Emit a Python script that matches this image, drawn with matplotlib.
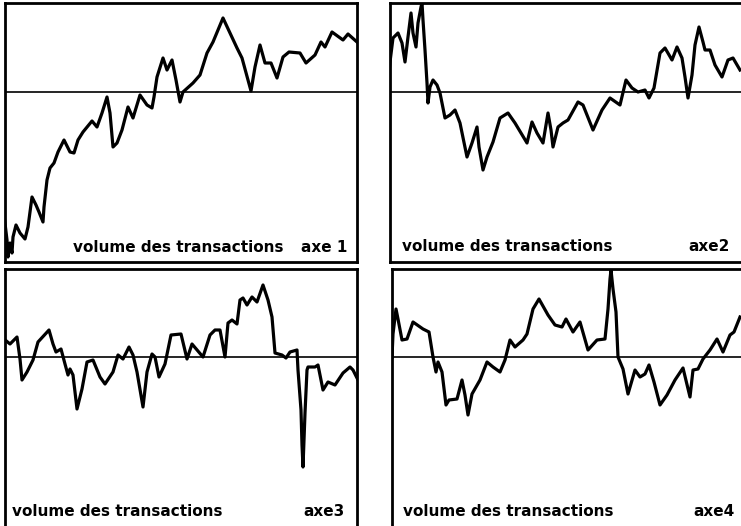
import matplotlib.pyplot as plt

# panel 1 (axe 1): positions along the period and values relative to the zero line
x1 = [-1, 2, 3, 5, 7, 8, 11, 15, 20, 23, 27, 31, 34, 38, 39, 42, 45, 49, 53, 59,
      65, 69, 73, 78, 87, 92, 97, 102, 105, 108, 112, 117, 123, 128, 135, 142, 147, 149, 152, 158,
      162, 167, 171, 175, 178, 188, 195, 202, 208, 218, 225, 232, 237, 246, 250, 255, 260, 266, 272, 278,
      284, 295, 301, 310, 316, 320, 327, 338, 343, 352]
y1 = [-123, -148, -165, -151, -161, -145, -133, -141, -147, -135, -105, -113, -120, -130, -115, -88, -76, -71, -60, -48,
      -60, -61, -48, -40, -29, -35, -21, -5, -21, -55, -51, -38, -15, -26, -3, -13, -16, -5, 15, 34,
      22, 32, 12, -10, 0, 9, 17, 39, 50, 74, 59, 44, 34, 1, 25, 47, 29, 29, 14, 35,
      40, 39, 29, 37, 50, 45, 60, 52, 58, 50]

# panel 2 (axe 2)
x2 = [-2, 0, 3, 8, 12, 15, 18, 21, 23, 26, 28, 31, 32, 33, 35, 37, 38, 40, 43, 47,
      50, 55, 60, 65, 70, 77, 82, 87, 89, 93, 97, 103, 110, 118, 125, 137, 142, 147, 153, 158,
      161, 163, 168, 173, 178, 188, 193, 203, 212, 220, 230, 236, 242, 248, 255, 259, 264, 270, 275, 282,
      287, 292, 295, 298, 302, 305, 309, 313, 315, 320, 325, 332, 338, 343, 350]
y2 = [9, 30, 54, 59, 49, 30, 55, 79, 59, 45, 69, 85, 89, 72, 42, 9, -11, 5, 12, 7,
      -1, -26, -23, -18, -31, -65, -51, -35, -55, -78, -65, -50, -26, -21, -31, -51, -30, -41, -51, -21,
      -38, -55, -35, -31, -28, -10, -13, -38, -18, -6, -13, 12, 4, 0, 2, -6, 4, 39, 44, 32,
      45, 34, 15, -6, 17, 47, 65, 50, 42, 42, 27, 15, 32, 34, 22]

# panel 3 (axe 3)
x3 = [-1, 5, 12, 15, 17, 22, 28, 33, 44, 48, 51, 56, 60, 63, 65, 68, 72, 77, 82, 88,
      95, 100, 108, 113, 118, 124, 128, 132, 138, 142, 147, 150, 154, 160, 166, 176, 182, 187, 198, 205,
      210, 215, 220, 223, 227, 232, 235, 238, 242, 247, 252, 258, 263, 267, 270, 277, 281, 285, 292, 293,
      296, 297, 298, 300, 302, 303, 310, 313, 318, 323, 330, 338, 345, 348, 353]
y3 = [18, 13, 20, -2, -23, -15, -3, 15, 27, 13, 5, 8, -7, -18, -12, -18, -52, -32, -5, -3,
      -20, -27, -15, 2, -2, 10, 2, -15, -50, -15, 3, 0, -20, -7, 22, 23, -2, 13, 0, 22,
      27, 27, 0, 34, 37, 33, 57, 59, 52, 60, 55, 72, 57, 40, 4, 2, -1, 5, 7, -13,
      -53, -88, -110, -56, -13, -10, -10, -8, -33, -25, -28, -16, -10, -13, -23]

# panel 4 (axe 4)
x4 = [0, 1, 4, 6, 10, 15, 21, 31, 37, 41, 44, 46, 50, 54, 57, 65, 70, 73, 76, 80,
      88, 95, 101, 108, 113, 118, 123, 131, 135, 141, 147, 156, 163, 170, 174, 181, 188, 196, 205, 213,
      216, 218, 219, 221, 224, 226, 231, 236, 243, 248, 253, 257, 262, 268, 275, 283, 291, 298, 301, 306,
      311, 318, 325, 331, 338, 342, 348]
y4 = [0, 23, 48, 38, 17, 18, 35, 28, 25, 0, -15, -5, -15, -48, -43, -42, -23, -38, -58, -37,
      -23, -5, -10, -15, -3, 17, 10, 17, 23, 48, 58, 42, 32, 30, 38, 25, 35, 7, 17, 18,
      48, 78, 87, 68, 45, 0, -12, -37, -13, -20, -17, -8, -25, -48, -38, -23, -11, -40, -13, -12,
      -2, 7, 18, 5, 22, 25, 40]

label = "volume des transactions"
axis_names = ["axe 1", "axe2", "axe3", "axe4"]

W, H = 741, 526
fig = plt.figure(figsize=(W / 100, H / 100), dpi=100)

# panel boxes in pixels: left, top, width, height (right/bottom ones run past the edge)
boxes = [(5, 3, 352, 259), (390, 3, 356, 259), (5, 269, 352, 263), (392, 269, 356, 263)]
ylims = [(-170, 89), (-170, 89), (-175, 88), (-175, 88)]
xlims = [352, 356, 352, 356]
series = [(x1, y1), (x2, y2), (x3, y3), (x4, y4)]
# label left, name right (axes fraction of the 352 px wide part), text centre in px from panel bottom edge
text_pos = [(68, 342, 14), (12, 340, 15), (7, 340, 16), (11, 343, 16)]

for (l, t, w, h), yl, xl, (xs, ys), (tx, nx, ty), name in zip(boxes, ylims, xlims, series, text_pos, axis_names):
    ax = fig.add_axes([l / W, 1 - (t + h) / H, w / W, h / H])
    ax.plot(xs, ys, color='black', lw=2.3, solid_joinstyle='round')
    ax.axhline(0, color='black', lw=1.2)
    ax.set_xlim(0, xl)
    ax.set_ylim(*yl)
    ax.set_xticks([])
    ax.set_yticks([])
    for s in ax.spines.values():
        s.set_linewidth(2)
    ty_frac = (ty + (h - 259 if h > 259 else 0)) / h
    ty_frac = (ty + (h - 259)) / h if h > 259 else ty / h
    ax.text(tx / w, ty_frac, label, transform=ax.transAxes, fontsize=11, fontweight='bold',
            ha='left', va='center')
    ax.text(nx / w, ty_frac, name, transform=ax.transAxes, fontsize=11, fontweight='bold',
            ha='right', va='center')

plt.savefig('out.png', dpi=100)
